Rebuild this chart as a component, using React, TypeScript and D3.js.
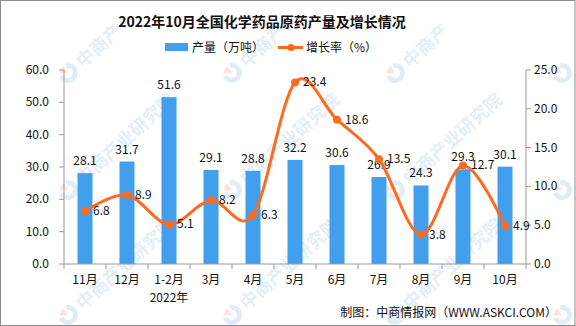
import React from "react";
import * as d3 from "d3";

const categories = ["11月", "12月", "1-2月", "3月", "4月", "5月", "6月", "7月", "8月", "9月", "10月"];
const output = [28.1, 31.7, 51.6, 29.1, 28.8, 32.2, 30.6, 26.9, 24.3, 29.3, 30.1];
const growth = [6.8, 8.9, 5.1, 8.2, 6.3, 23.4, 18.6, 13.5, 3.8, 12.7, 4.9];
const leftTicks = [0, 10, 20, 30, 40, 50, 60];
const rightTicks = [0, 5, 10, 15, 20, 25];

const W = 576, H = 326;
const L = 64, R = 526, T = 70, B = 264;
const FONT = "'Noto Sans CJK SC', 'DejaVu Sans', sans-serif";
const BAR = "#419FEE";
const LINE = "#FF6A1F";
const AXIS = "#999999";

// watermark anchors: [x, y, text]
const watermarks: [number, number, string][] = [
  [68, 73, "中商产"], [232, 73, "中商产"], [395, 73, "中商产"], [562, 73, ""],
  [68, 190, "中商产业研究院"], [232, 190, "中商产业研究院"], [395, 190, "中商产业研究院"], [562, 190, ""],
  [68, 315, "中商产业研究院"], [232, 315, "中商产业研究院"], [395, 315, "中商产业研究院"], [562, 315, ""],
];

export default function App() {
  const x = d3.scaleBand<string>().domain(categories).range([L, R]);
  const yL = d3.scaleLinear().domain([0, 60]).range([B, T]);
  const yR = d3.scaleLinear().domain([0, 25]).range([B, T]);
  const bw = 15;
  const cx = (c: string) => (x(c) as number) + x.bandwidth() / 2;
  const pts: [number, number][] = categories.map((c, i) => [cx(c), yR(growth[i])]);
  const line = d3.line().curve(d3.curveCatmullRom.alpha(0))(pts) as string;
  const boundaries = d3.range(categories.length + 1).map((i) => L + i * x.bandwidth());
  const arcBlue = d3.arc()({ innerRadius: 5, outerRadius: 10, startAngle: Math.PI * 0.15, endAngle: Math.PI * 1.6 }) as string;
  const arcRed = d3.arc()({ innerRadius: 0, outerRadius: 8, startAngle: Math.PI * 1.7, endAngle: Math.PI * 2.05 }) as string;

  return (
    <svg width={W} height={H} style={{ position: "absolute", left: 0, top: 0, background: "#fff" }} fontFamily={FONT}>
      <rect x={0.5} y={0.5} width={W - 1.5} height={H - 1} fill="#fff" stroke="#8c8c8c" />
      {watermarks.map(([wx, wy, t], i) => (
        <g key={i} transform={`translate(${wx},${wy}) rotate(-42)`} opacity={0.55}>
          <path d={arcBlue} fill="#c9dff0" />
          <path d={arcRed} fill="#f6cfc4" />
          {t && <text x={14} y={7} fontSize={18} fontWeight="bold" fill="#cfe1f1">{t}</text>}
        </g>
      ))}
      <text x={262} y={27} textAnchor="middle" fontSize={14} fontWeight="bold" fill="#111">
        2022年10月全国化学药品原药产量及增长情况
      </text>
      {/* legend */}
      <rect x={165} y={43} width={23} height={8} fill={BAR} />
      <text x={192} y={52} fontSize={12} fill="#111">产量（万吨）</text>
      <line x1={278} x2={303} y1={47.5} y2={47.5} stroke={LINE} strokeWidth={3} />
      <circle cx={291} cy={47.5} r={3.5} fill={LINE} />
      <text x={306} y={52} fontSize={12} fill="#111">增长率（%）</text>

      {/* bars */}
      {categories.map((c, i) => (
        <rect key={c} x={cx(c) - bw / 2} y={yL(output[i])} width={bw} height={B - yL(output[i])} fill={BAR} />
      ))}
      {/* axes */}
      <line x1={L} x2={L} y1={T} y2={B} stroke={AXIS} />
      {leftTicks.map((t) => (
        <g key={t}>
          <line x1={L - 5} x2={L} y1={yL(t)} y2={yL(t)} stroke={AXIS} />
          <text x={49} y={yL(t) + 4} textAnchor="end" fontSize={12} fill="#111">{t.toFixed(1)}</text>
        </g>
      ))}
      <line x1={R} x2={R} y1={T} y2={B} stroke={AXIS} />
      {rightTicks.map((t) => (
        <g key={t}>
          <line x1={R} x2={R + 5} y1={yR(t)} y2={yR(t)} stroke={AXIS} />
          <text x={534} y={yR(t) + 4} fontSize={12} fill="#111">{t.toFixed(1)}</text>
        </g>
      ))}
      <line x1={L} x2={R} y1={B} y2={B} stroke={AXIS} />
      {boundaries.map((b, i) => (
        <line key={i} x1={b} x2={b} y1={B} y2={B + 5} stroke={AXIS} />
      ))}
      {categories.map((c) => (
        <text key={c} x={cx(c)} y={284} textAnchor="middle" fontSize={12} fill="#111">{c}</text>
      ))}
      <text x={cx("1-2月")} y={302} textAnchor="middle" fontSize={12} fill="#111">2022年</text>

      {/* bar labels */}
      {categories.map((c, i) => (
        <text key={c} x={cx(c)} y={yL(output[i]) - 8} textAnchor="middle" fontSize={12} fill="#111">
          {output[i].toFixed(1)}
        </text>
      ))}
      {/* line */}
      <path d={line} fill="none" stroke={LINE} strokeWidth={3} />
      {pts.map(([px, py], i) => (
        <circle key={i} cx={px} cy={py} r={4} fill={LINE} />
      ))}
      {pts.map(([px, py], i) => (
        <text key={i} x={px + 8} y={py + 4} fontSize={12} fill="#111">{growth[i].toFixed(1)}</text>
      ))}
      <text x={557} y={317} textAnchor="end" fontSize={12} fill="#111">制图：中商情报网（WWW.ASKCI.COM）</text>
    </svg>
  );
}
